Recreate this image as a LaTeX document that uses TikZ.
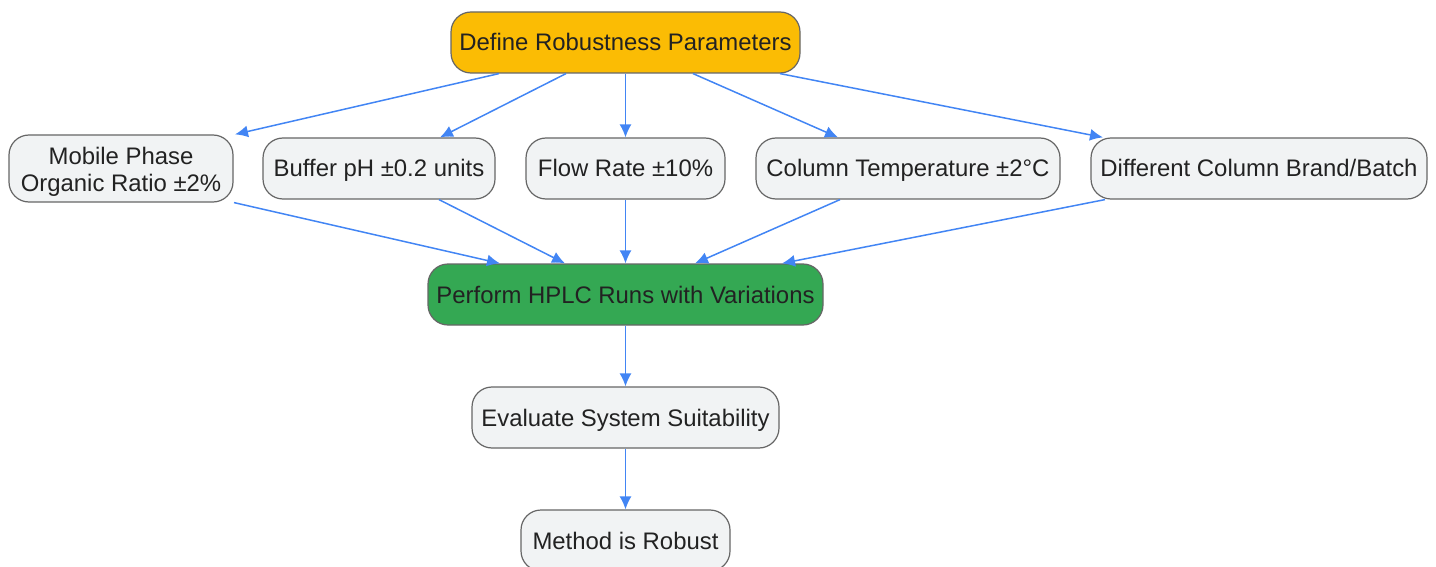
\documentclass[tikz,border=0pt]{standalone}
\usepackage{fontspec}
\setmainfont{Liberation Sans}
\usepackage{xcolor}
\usepackage{tikz}
\usetikzlibrary{arrows.meta,positioning,calc}
\definecolor{stepyellow}{HTML}{FBBC04}
\definecolor{stepgreen}{HTML}{34A853}
\definecolor{stepgray}{HTML}{F1F3F4}
\definecolor{edgegray}{HTML}{666666}
\definecolor{linkblue}{HTML}{4285F4}
\definecolor{textdark}{HTML}{222222}

\begin{document}
\begin{tikzpicture}[x=1pt,y=-1pt,
		box/.style={draw=edgegray,line width=1.2pt,rounded corners=20pt,fill=stepgray,
			minimum height=61pt,inner sep=0pt,align=center,text=textdark,
			text height=17pt,text depth=0pt,
			font=\fontsize{23.9}{27}\selectfont},
		twoline/.style={text height=,text depth=},
		link/.style={draw=linkblue,line width=1.5pt,-{Latex[length=13pt,width=12pt]}}]
		\useasboundingbox (0,0) rectangle (1436,567);
		\node[box,fill=stepyellow,minimum width=349pt] (def) at (625.5,42.5) {Define Robustness Parameters};
		\node[box,twoline,minimum width=224pt,minimum height=67pt] (mob) at (121,168.5) {\rule{0pt}{24pt}Mobile Phase\\Organic Ratio ±2\%};
		\node[box,minimum width=232pt] (buf) at (379,168.5) {Buffer pH ±0.2 units};
		\node[box,minimum width=199pt] (flow) at (625.5,168.5) {Flow Rate ±10\%};
		\node[box,minimum width=304pt] (temp) at (908,168.5) {Column Temperature ±2°C};
		\node[box,minimum width=336pt] (brand) at (1259,168.5) {Different Column Brand/Batch};
		\node[box,fill=stepgreen,minimum width=395pt] (runs) at (625.5,294.5) {Perform HPLC Runs with Variations};
		\node[box,minimum width=307pt] (eval) at (625.5,417.5) {Evaluate System Suitability};
		\node[box,minimum width=209pt] (robust) at (625.5,540.5) {Method is Robust};
		\draw[link] ([xshift=-126.5pt]def.south) -- ([xshift=114pt]mob.north);
		\draw[link] ([xshift=-59.5pt]def.south) -- ([xshift=61pt]buf.north);
		\draw[link] (def) -- (flow);
		\draw[link] ([xshift=67.5pt]def.south) -- ([xshift=-70pt]temp.north);
		\draw[link] ([xshift=154.5pt]def.south) -- ([xshift=-156pt]brand.north);
		\draw[link] ([xshift=113pt]mob.south) -- ([xshift=-125.5pt]runs.north);
		\draw[link] ([xshift=60pt]buf.south) -- ([xshift=-60.5pt]runs.north);
		\draw[link] (flow) -- (runs);
		\draw[link] ([xshift=-68pt]temp.south) -- ([xshift=69.5pt]runs.north);
		\draw[link] ([xshift=-154pt]brand.south) -- ([xshift=156.5pt]runs.north);
		\draw[link] (runs) -- (eval);
		\draw[link] (eval) -- (robust);
	\end{tikzpicture}
\end{document}
